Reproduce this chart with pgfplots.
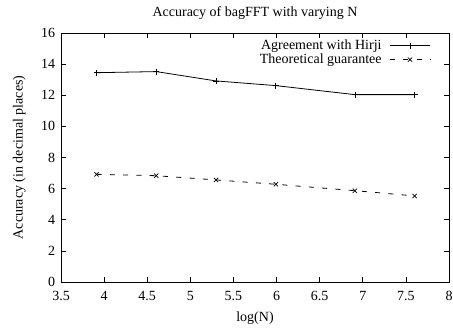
\documentclass[border=0pt]{standalone}
\usepackage{fontspec}
\setmainfont{Liberation Serif}
\usepackage{pgfplots}
\pgfplotsset{compat=1.18}
\begin{document}
\fontsize{14bp}{16bp}\selectfont
\begin{tikzpicture}[x=1bp,y=1bp]
\path[use as bounding box] (-61,-50) rectangle (392,282);
\begin{axis}[
  at={(0,0)}, anchor=south west,
  scale only axis, width=388bp, height=249bp,
  xmin=3.5, xmax=8, ymin=0, ymax=16,
  xtick={3.5,4,...,8}, ytick={0,2,...,16},
  tick align=inside, major tick length=5bp,
  axis line style={line width=1pt},
  every tick/.style={black, line width=0.6pt},
  /pgf/number format/assume math mode=true,
  ticklabel style={font=\fontsize{14bp}{16bp}\selectfont},
  xticklabel style={yshift=-4bp},
  yticklabel style={xshift=-1bp},
  label style={font=\fontsize{14bp}{16bp}\selectfont},
  xlabel={log(N)}, ylabel={Accuracy (in decimal places)},
  xlabel style={yshift=-2bp},
  ylabel style={yshift=6bp},
  title={Accuracy of bagFFT with varying N},
  title style={font=\fontsize{14bp}{16bp}\selectfont, yshift=3bp},
  legend style={draw=none, fill=none, at={(0.955,0.985)}, anchor=north east,
    font=\fontsize{14bp}{16bp}\selectfont, row sep=-2bp,
    cells={anchor=east}, inner sep=1bp,
    /tikz/every odd column/.append style={column sep=6bp}},
  legend plot pos=right,
  legend image code/.code={\draw[mark repeat=2,mark phase=2,#1] plot coordinates {(0bp,0bp) (20bp,0bp) (40bp,0bp)};},
]
\addplot[black, line width=0.8pt, mark=+, mark size=3bp, mark options={line width=0.7pt}]
  coordinates {(3.912,13.45) (4.605,13.52) (5.298,12.92) (5.991,12.62) (6.908,12.04) (7.601,12.04)};
\addlegendentry{Agreement with Hirji}
\addplot[black, line width=0.8pt, dash pattern=on 5bp off 8.3bp, mark=x, mark size=3bp, mark options={solid, line width=0.7pt}]
  coordinates {(3.912,6.92) (4.605,6.83) (5.298,6.56) (5.991,6.28) (6.908,5.87) (7.601,5.53)};
\addlegendentry{Theoretical guarantee}
\end{axis}
\end{tikzpicture}
\end{document}
